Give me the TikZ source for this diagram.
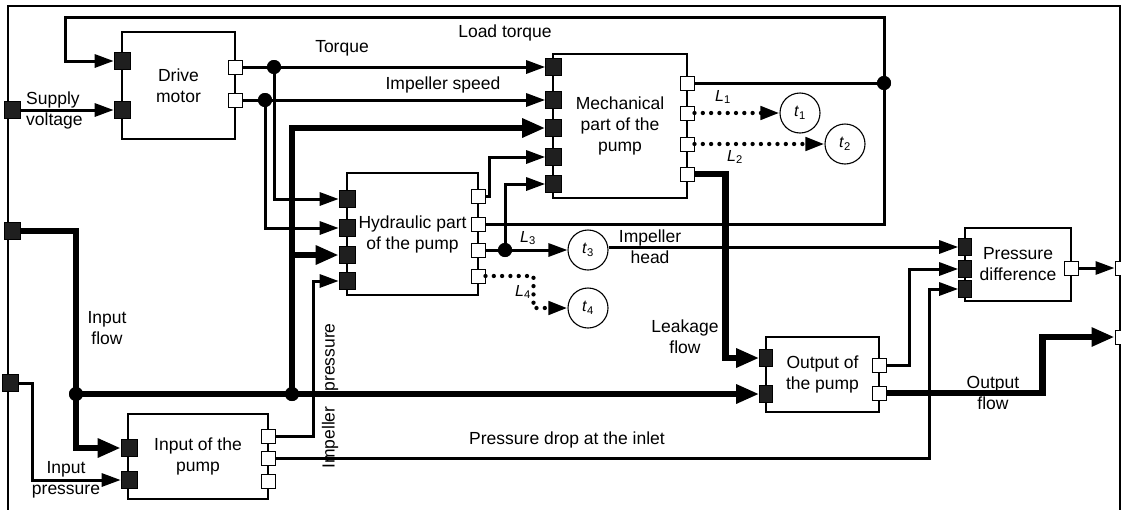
\documentclass[tikz,border=0pt]{standalone}
\usepackage{fontspec}
\setmainfont{Liberation Sans}
\usetikzlibrary{arrows.meta}
\begin{document}
\begin{tikzpicture}[x=1pt,y=-1pt,
  font=\fontsize{17.5}{21}\selectfont,
  box/.style={draw, line width=1.3pt, inner sep=0pt, align=center},
  bp/.style={draw=black, fill=black!88, line width=0.6pt, minimum width=16pt, minimum height=17pt, inner sep=0pt},
  bpn/.style={bp, minimum width=13pt},
  wp/.style={draw=black, fill=white, line width=1pt, minimum width=14pt, minimum height=14pt, inner sep=0pt},
  dot/.style={circle, fill=black, inner sep=0pt, minimum size=14pt},
  tc/.style={circle, draw, line width=1.1pt, minimum size=40pt, inner sep=0pt, font=\fontsize{16}{18}\selectfont},
  sig/.style={line width=3pt},
  flw/.style={line width=6.3pt},
  dotl/.style={line width=4.3pt, line cap=round, dash pattern=on 0pt off 8.3pt},
  sa/.style={-{Triangle[length=19pt,width=13pt]}},
  fa/.style={-{Triangle[length=23pt,width=18pt]}},
  lab/.style={align=center, inner sep=0pt},
  llab/.style={inner sep=0pt, font=\fontsize{16}{18}\selectfont}
]
\useasboundingbox (0,0) rectangle (1121,509);
% frame
\draw[line width=1.4pt] (8,540) -- (8,6) -- (1120,6) -- (1120,540);

% boxes
\node[box, minimum width=113pt, minimum height=107pt] (drive) at (178.5,85.5) {Drive\\motor};
\node[box, minimum width=134pt, minimum height=144pt] (mech) at (620,126) {Mechanical\\part of the\\pump};
\node[box, minimum width=131pt, minimum height=122pt] (hydr) at (412.5,234) {Hydraulic part\\of the pump};
\node[box, minimum width=140pt, minimum height=85pt] (inp) at (198,456.5) {Input of the\\pump};
\node[box, minimum width=113pt, minimum height=75pt] (outp) at (822.5,374.5) {Output of\\the pump};
\node[box, minimum width=106pt, minimum height=73pt] (pd) at (1018,264.5) {Pressure\\difference};

% coordinates, dots, circles
\coordinate (ltc) at (65,17);
\node[dot] (jt) at (274,67) {};
\node[dot] (js) at (265,100) {};
\node[dot] (jlt) at (884,83) {};
\node[dot] (j3) at (505,250) {};
\node[dot] (jf1) at (76,394) {};
\node[dot] (jf2) at (292,394) {};
\node[tc] (t1) at (800,113) {\textit{t}\textsubscript{1}};
\node[tc] (t2) at (845,144) {\textit{t}\textsubscript{2}};
\node[tc] (t3) at (588,250) {\textit{t}\textsubscript{3}};
\node[tc] (t4) at (588,308) {\textit{t}\textsubscript{4}};

% ports
\node[bp] (sv) at (12.5,110) {};
\node[bp] (fp) at (12.5,231) {};
\node[bp] (pp) at (10,383) {};
\node[bp] (d1) at (122,61) {};
\node[bp] (d2) at (122,110) {};
\node[wp] (do1) at (235.5,67) {};
\node[wp] (do2) at (235.5,100) {};
\node[bp] (m1) at (553.5,67) {};
\node[bp] (m2) at (553.5,100) {};
\node[bp] (m3) at (553.5,128) {};
\node[bp] (m4) at (553.5,157) {};
\node[bp] (m5) at (553.5,184) {};
\node[wp] (mo1) at (687,83) {};
\node[wp] (mo2) at (687,113) {};
\node[wp] (mo3) at (687,144) {};
\node[wp] (mo4) at (687,174) {};
\node[bp] (h1) at (347,199) {};
\node[bp] (h2) at (347,228) {};
\node[bp] (h3) at (347,255) {};
\node[bp] (h4) at (347,281) {};
\node[wp] (ho1) at (478,196) {};
\node[wp] (ho2) at (478,224) {};
\node[wp] (ho3) at (478,250) {};
\node[wp] (ho4) at (478,276) {};
\node[bp] (i1) at (129,448) {};
\node[bp] (i2) at (129,480) {};
\node[wp] (io1) at (268,436) {};
\node[wp] (io2) at (268,458) {};
\node[wp] (io3) at (268,481) {};
\node[bpn] (o1) at (766,358) {};
\node[bpn] (o2) at (766,394) {};
\node[wp] (oo1) at (879,365) {};
\node[wp] (oo2) at (879,393) {};
\node[bpn] (p1) at (965,247) {};
\node[bpn] (p2) at (965,269) {};
\node[bpn] (p3) at (965,289) {};
\node[wp] (po) at (1071,268) {};
\node[wp] (r1) at (1122,268) {};
\node[wp] (r2) at (1122,337) {};

% connectors
\draw[sig,sa] (sv.east) -- (d2.west);
\draw[sig,sa] (ho2.east) -| (jlt.center) |- (ltc) |- (d1.west);
\draw[sig] (mo1.east) -- (jlt.center);
\draw[sig,sa] (do1.east) -- (m1.west);
\draw[sig,sa] (jt.center) |- (h1.west);
\draw[sig,sa] (do2.east) -- (m2.west);
\draw[sig,sa] (js.center) |- (h2.west);
\draw[flw,fa] (fp.east) -| (jf1.center) |- (i1.west);
\draw[flw,fa] (jf1.center) -- (o2.west);
\draw[flw,fa] (jf2.center) |- (m3.west);
\draw[flw,fa] (jf2.center |- h3.west) -- (h3.west);
\draw[sig,sa] (pp.east) -- ++(14,0) |- (i2.west);
\draw[sig,sa] (io1.east) -- ++(38,0) |- (h4.west);
\draw[sig,sa] (io2.east) -- ++(654,0) |- (p3.west);
\draw[sig,sa] (ho1.east) -- ++(4,0) |- (m4.west);
\draw[sig] (ho3.east) -- (j3.center);
\draw[sig,sa] (j3.center) -- (t3.west);
\draw[sig,sa] (j3.center) |- (m5.west);
\draw[dotl,sa] (ho4.east) -- ++(48,0) |- (t4.west);
\draw[dotl,sa] (mo2.east) -- (t1.west);
\draw[dotl,sa] (mo3.east) -- (t2.west);
\draw[flw,fa] (mo4.east) -- ++(31,0) |- (o1.west);
\draw[sig,sa] (oo1.east) -- ++(23,0) |- (p2.west);
\draw[flw,fa] (oo2.east) -- ++(156,0) |- (r2.west);
\draw[sig,sa] (po.east) -- (r1.west);
\draw[sig,sa] (t3.east |- p1.west) -- (p1.west);

% junction dots on top
\fill (jt) circle (7);
\fill (js) circle (7);
\fill (jlt) circle (7);
\fill (j3) circle (7);
\fill (jf1) circle (7);
\fill (jf2) circle (7);

% labels
\node[lab] (lLoad) at (505,33) {Load torque};
\node[lab] (lTor) at (342,48) {Torque};
\node[lab] (lSpd) at (443,85) {Impeller speed};
\node[lab, anchor=west, align=left] (lSup) at (26,110) {Supply\\voltage};
\node[lab] (lInF) at (107,328) {Input\\flow};
\node[lab] (lInP) at (66,480) {Input\\pressure};
\node[lab] (lHead) at (650,247) {Impeller\\head};
\node[lab] (lLeak) at (685,337) {Leakage\\flow};
\node[lab] (lOut) at (993,393) {Output\\flow};
\node[lab] (lDrop) at (567,440) {Pressure drop at the inlet};
\node[lab, rotate=90] (lImpP) at (330,396) {Impeller\hspace{15pt}pressure};
\node[llab] (L1) at (723,97) {\textit{L}\textsubscript{1}};
\node[llab] (L2) at (735,157) {\textit{L}\textsubscript{2}};
\node[llab] (L3) at (528,238) {\textit{L}\textsubscript{3}};
\node[llab] (L4) at (523,292) {\textit{L}\textsubscript{4}};
\end{tikzpicture}
\end{document}
